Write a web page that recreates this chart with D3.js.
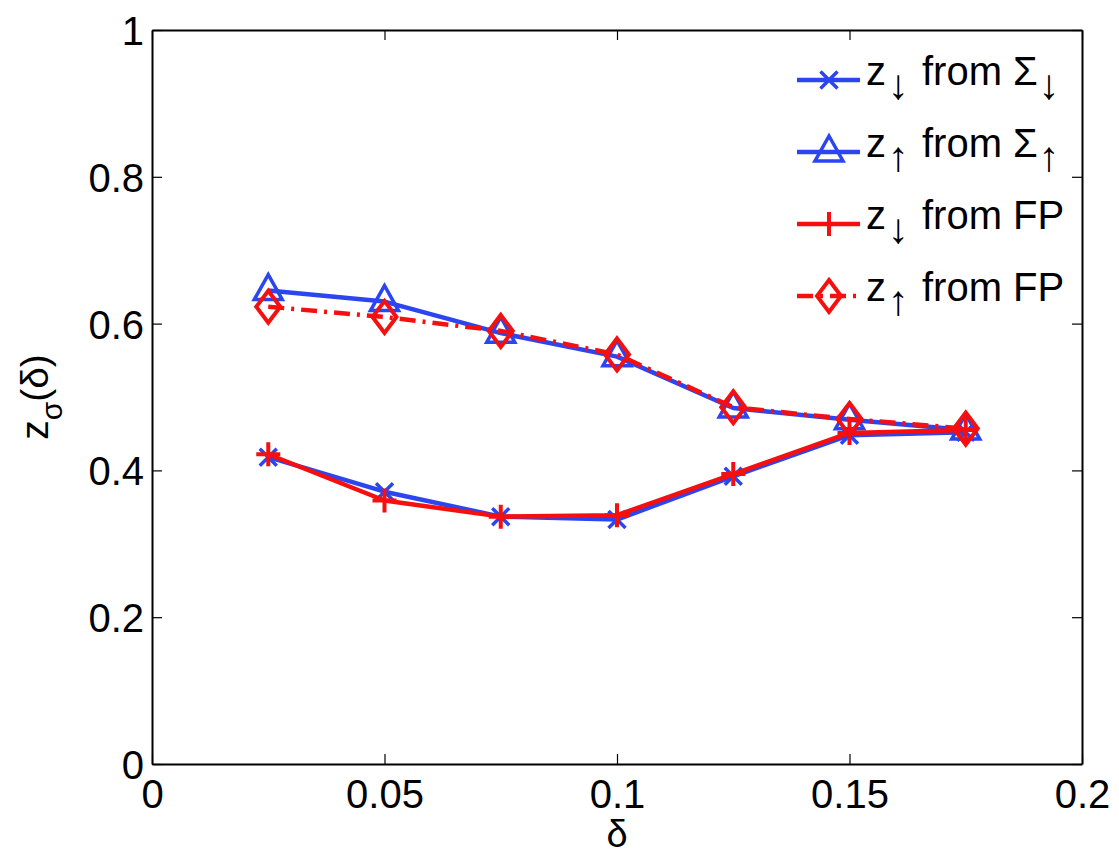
<!DOCTYPE html>
<html>
<head>
<meta charset="utf-8">
<script src="https://cdn.jsdelivr.net/npm/d3@7"></script>
<style>
  body { margin: 0; background: #fff; }
  text { font-family: "Liberation Sans", Arial, Helvetica, sans-serif; fill: #000; }
</style>
</head>
<body>
<svg id="chart" width="1119" height="865"></svg>
<script>
// values
const delta = [0.025, 0.05, 0.075, 0.1, 0.125, 0.15, 0.175];
const zDownSigma = [0.418, 0.371, 0.337, 0.333, 0.392, 0.448, 0.452];
const zUpSigma = [0.645, 0.630, 0.587, 0.555, 0.485, 0.469, 0.455];
const zDownFP = [0.422, 0.359, 0.337, 0.339, 0.395, 0.451, 0.455];
const zUpFP = [0.623, 0.609, 0.590, 0.558, 0.486, 0.470, 0.457];

const xTicks = [0, 0.05, 0.1, 0.15, 0.2];
const xTickLabels = ['0', '0.05', '0.1', '0.15', '0.2'];
const yTicks = [0, 0.2, 0.4, 0.6, 0.8, 1];
const yTickLabels = ['0', '0.2', '0.4', '0.6', '0.8', '1'];

const blue = '#2b45f0';
const red = '#f50f0f';

// custom marker shapes, roughly like matlab's
const xMark = { draw(c, s) { const r = 8.5; c.moveTo(-r, -r); c.lineTo(r, r); c.moveTo(-r, r); c.lineTo(r, -r); } };
const plusMark = { draw(c, s) { const r = 12; c.moveTo(-r, 0); c.lineTo(r, 0); c.moveTo(0, -r); c.lineTo(0, r); } };
const triMark = { draw(c, s) { c.moveTo(0, -16); c.lineTo(14, 9); c.lineTo(-14, 9); c.closePath(); } };
const diaMark = { draw(c, s) { c.moveTo(0, -16); c.lineTo(12, 0); c.lineTo(0, 16); c.lineTo(-12, 0); c.closePath(); } };

const series = [
  { values: zDownSigma, color: blue, mark: xMark, dash: null, sub1: '↓', rest: 'from Σ', sub2: '↓', mw: 3.5 },
  { values: zUpSigma, color: blue, mark: triMark, dash: null, sub1: '↑', rest: 'from Σ', sub2: '↑', mw: 3.5 },
  { values: zDownFP, color: red, mark: plusMark, dash: null, sub1: '↓', rest: 'from FP', sub2: null, mw: 4 },
  { values: zUpFP, color: red, mark: diaMark, dash: '16,7,3,7', sub1: '↑', rest: 'from FP', sub2: null, mw: 4 }
];

const svg = d3.select('#chart');
const plotL = 152, plotR = 1082, plotT = 30, plotB = 764;

const x = d3.scaleLinear().domain([0, 0.2]).range([plotL, plotR]);
const y = d3.scaleLinear().domain([0, 1]).range([plotB, plotT]);

// box + inward ticks on all sides
const tickLen = 10;
const axB = svg.append('g').attr('transform', `translate(0,${plotB})`)
  .call(d3.axisBottom(x).tickValues(xTicks).tickFormat((d, i) => xTickLabels[i]).tickSizeInner(-tickLen).tickSizeOuter(0).tickPadding(16));
const axT = svg.append('g').attr('transform', `translate(0,${plotT})`)
  .call(d3.axisTop(x).tickValues(xTicks).tickFormat('').tickSizeInner(-tickLen).tickSizeOuter(0));
const axL = svg.append('g').attr('transform', `translate(${plotL},0)`)
  .call(d3.axisLeft(y).tickValues(yTicks).tickFormat((d, i) => yTickLabels[i]).tickSizeInner(-tickLen).tickSizeOuter(0).tickPadding(8));
const axR = svg.append('g').attr('transform', `translate(${plotR},0)`)
  .call(d3.axisRight(y).tickValues(yTicks).tickFormat('').tickSizeInner(-tickLen).tickSizeOuter(0));

[axB, axT, axL, axR].forEach(g => {
  g.select('.domain').attr('stroke', '#000').attr('stroke-width', 2);
  g.selectAll('.tick line').attr('stroke', '#000').attr('stroke-width', 1.2);
  g.selectAll('.tick text').style('font-size', '40px').attr('fill', '#000');
});
axB.selectAll('.tick text').attr('dy', '0.71em');
axL.selectAll('.tick text').attr('dy', '0.36em');

// data lines
const line = d3.line().x((d, i) => x(delta[i])).y(d => y(d));

series.forEach(s => {
  const g = svg.append('g');
  g.append('path')
    .datum(s.values)
    .attr('d', line)
    .attr('fill', 'none')
    .attr('stroke', s.color)
    .attr('stroke-width', 4.5)
    .attr('stroke-linejoin', 'round')
    .attr('stroke-dasharray', s.dash);
  g.selectAll('path.mk')
    .data(s.values)
    .enter()
    .append('path')
    .attr('class', 'mk')
    .attr('d', d3.symbol().type(s.mark))
    .attr('transform', (d, i) => `translate(${x(delta[i])},${y(d)})`)
    .attr('fill', 'none')
    .attr('stroke', s.color)
    .attr('stroke-width', s.mw);
});

// legend (no box)
const legY = [80, 152, 224, 296];
series.forEach((s, i) => {
  const g = svg.append('g').attr('transform', `translate(0,${legY[i]})`);
  g.append('line').attr('x1', 797).attr('x2', 860).attr('y1', 0).attr('y2', 0)
    .attr('stroke', s.color).attr('stroke-width', 4.5).attr('stroke-dasharray', s.dash);
  g.append('path').attr('d', d3.symbol().type(s.mark))
    .attr('transform', 'translate(829,0)')
    .attr('fill', 'none').attr('stroke', s.color).attr('stroke-width', s.mw);
  g.append('text').attr('x', 866).attr('y', 5).style('font-size', '40px').text('z');
  g.append('text').attr('x', 898).attr('y', 19).attr('text-anchor', 'middle')
    .style('font-size', '42px').text(s.sub1);
  const rest = g.append('text').attr('x', 922).attr('y', 5).style('font-size', '40px').text(s.rest);
  if (s.sub2) {
    const w = rest.node().getComputedTextLength();
    g.append('text').attr('x', 922 + w + 11).attr('y', 19).attr('text-anchor', 'middle')
      .style('font-size', '42px').text(s.sub2);
  }
});

// axis labels
svg.append('text')
  .attr('x', 617).attr('y', 847)
  .attr('text-anchor', 'middle')
  .style('font-size', '38px')
  .text('δ');

const yl = svg.append('text')
  .attr('transform', `translate(48,${(plotT + plotB) / 2}) rotate(-90)`)
  .attr('text-anchor', 'middle')
  .style('font-size', '39px');
yl.append('tspan').text('z');
yl.append('tspan').attr('dy', 14).style('font-size', '30px').text('σ');
yl.append('tspan').attr('dy', -14).text('(δ)');
</script>
</body>
</html>
